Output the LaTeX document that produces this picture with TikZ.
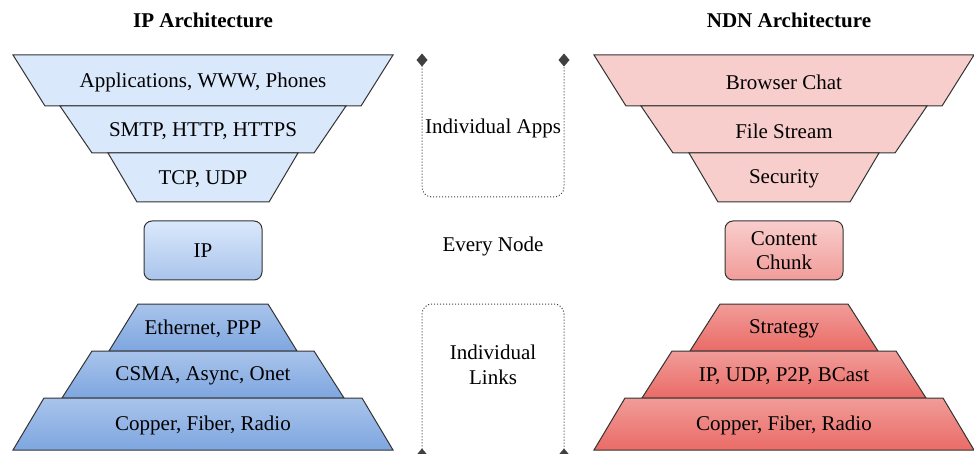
\documentclass[tikz,border=0pt]{standalone}
\usepackage{fontspec}
\setmainfont{Liberation Serif}
\newfontfamily\diagfont{Liberation Serif}
\usetikzlibrary{arrows.meta, positioning}
\definecolor{ipblue}{HTML}{DAE8FC}
\definecolor{ipblueB}{HTML}{A9C4EB}
\definecolor{ipblueC}{HTML}{7EA6E0}
\definecolor{ndnred}{HTML}{F8CECC}
\definecolor{ndnredB}{HTML}{F19C99}
\definecolor{ndnredC}{HTML}{EA6B66}
\definecolor{edgegray}{HTML}{333333}

% layer{name}{centre x}{top y}{bottom y}{half top}{half bottom}{style}{text}
\newcommand{\layer}[8]{%
  \path[#7] (#2-#5,#3) -- (#2+#5,#3) -- (#2+#6,#4) -- (#2-#6,#4) -- cycle;
  \node (#1) at (#2,{(#3+#4)/2+1.5}) {#8};}

\tikzset{
  every node/.style={font=\diagfont\fontsize{21}{24.5}\selectfont, align=center},
  layerline/.style={draw=edgegray, line width=1pt},
  ipflat/.style={layerline, fill=ipblue},
  ipshade/.style={layerline, top color=ipblueB, bottom color=ipblueC},
  ndnflat/.style={layerline, fill=ndnred},
  ndnshade/.style={layerline, top color=ndnredB, bottom color=ndnredC},
  waistbox/.style={draw=edgegray, line width=1pt, rounded corners=8pt,
    minimum width=118pt, minimum height=59pt},
  tipmark/.tip={Diamond[length=13pt,width=11pt,sep=-6.5pt]},
  bracket/.style={draw=black!75, dotted, line width=1pt, rounded corners=10pt,
    tipmark-tipmark},
  title/.style={font=\diagfont\fontsize{21}{24}\selectfont\bfseries}
}

\begin{document}
\begin{tikzpicture}[x=1pt, y=-1pt]
    \useasboundingbox (0,0) rectangle (974,454);

    % Titles
    \node[title] (iptitle) at (203,20) {IP Architecture};
    \node[title] (ndntitle) at (789,20) {NDN Architecture};

    % IP stack: upper funnel
    \layer{ipapp}{203}{55}{106}{190}{158}{ipflat}{Applications, WWW, Phones}
    \layer{ipproto}{203}{106}{153}{143}{111}{ipflat}{SMTP, HTTP, HTTPS}
    \layer{iptrans}{203}{153}{202}{95}{66}{ipflat}{TCP, UDP}

    % IP waist
    \node[waistbox, top color=ipblue, bottom color=ipblueB] (ipwaist) at (203,250.5) {IP};

    % IP stack: lower pyramid
    \layer{iplink}{203}{304}{351}{65}{94}{ipshade}{Ethernet, PPP}
    \layer{ipmac}{203}{351}{398}{111}{141}{ipshade}{CSMA, Async, Onet}
    \layer{ipphy}{203}{398}{450}{159}{190}{ipshade}{Copper, Fiber, Radio}

    % NDN stack: upper funnel
    \layer{ndnapp}{784}{55}{106}{190}{158}{ndnflat}{Browser Chat}
    \layer{ndnstream}{784}{106}{153}{143}{111}{ndnflat}{File Stream}
    \layer{ndnsec}{784}{153}{202}{95}{66}{ndnflat}{Security}

    % NDN waist
    \node[waistbox, top color=ndnred, bottom color=ndnredB] (ndnwaist) at (784,250.5) {Content\\Chunk};

    % NDN stack: lower pyramid
    \layer{ndnstrat}{784}{304}{351}{64}{94}{ndnshade}{Strategy}
    \layer{ndnlink}{784}{351}{398}{112}{142}{ndnshade}{IP, UDP, P2P, BCast}
    \layer{ndnphy}{784}{398}{450}{159}{190}{ndnshade}{Copper, Fiber, Radio}

    % Middle column
    \coordinate (appsL) at (422,60);
    \coordinate (appsR) at (564,60);
    \coordinate (linksL) at (422,455);
    \coordinate (linksR) at (564,455);
    \draw[bracket] (appsL) -- (appsL |- 0,197) -- (appsR |- 0,197) -- (appsR);
    \draw[bracket] (linksL) -- (linksL |- 0,304) -- (linksR |- 0,304) -- (linksR);

    \node (apps) at (493,128) {Individual Apps};
    \node (every) at (493,246) {Every Node};
    \node (links) at (493,365) {Individual\\Links};
\end{tikzpicture}
\end{document}
